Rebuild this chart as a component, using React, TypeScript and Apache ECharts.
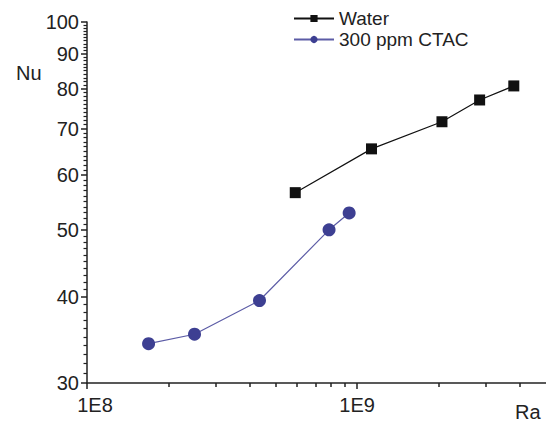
import React, { useEffect, useRef } from "react";
import * as echarts from "echarts";

const waterRa = [5.9e8, 1.13e9, 2.06e9, 2.84e9, 3.8e9];
const waterNu = [56.6, 65.5, 71.7, 77.1, 80.8];
const ctacRa = [1.69e8, 2.5e8, 4.35e8, 7.87e8, 9.34e8];
const ctacNu = [34.2, 35.3, 39.5, 50.0, 52.9];

const yMajor = [30, 40, 50, 60, 70, 80, 90, 100];
const yMinor: number[] = [];
for (let v = 31; v < 100; v++) if (v % 10 !== 0) yMinor.push(v);
const xMajor = [1e8, 1e9];
const xMinor = [2e8, 3e8, 4e8, 5e8, 6e8, 7e8, 8e8, 9e8, 2e9, 3e9, 4e9];
const xLabels = ["1E8", "1E9"];

const FONT = "'Liberation Sans', Arial, sans-serif";
const TXT = "#222";
const FS = 20;

export default function App() {
  const ref = useRef<HTMLDivElement>(null);
  useEffect(() => {
    if (!ref.current) return;
    const chart = echarts.init(ref.current, null, { renderer: "svg" });
    const axisLine = { show: true, onZero: false, lineStyle: { color: "#222", width: 1.5 } };
    chart.setOption({
      animation: false,
      backgroundColor: "#fff",
      grid: { left: 87, right: 0, top: 22, bottom: 44, containLabel: false },
      legend: {
        orient: "vertical",
        left: 288,
        top: 4,
        itemWidth: 40,
        itemHeight: 9,
        itemGap: 2,
        textStyle: { fontSize: 19, fontFamily: FONT, color: TXT },
        data: ["Water", "300 ppm CTAC"],
      },
      xAxis: [
        {
          type: "log",
          logBase: 10,
          min: 1e8,
          max: 5e9,
          position: "bottom",
          axisLine,
          splitLine: { show: false },
          axisTick: { show: true, inside: false, customValues: xMajor, length: 6, lineStyle: { color: "#222", width: 1.5 } },
          axisLabel: {
            show: true,
            inside: false,
            customValues: xMajor,
            margin: 12,
            fontSize: FS,
            fontFamily: FONT,
            color: TXT,
            formatter: (v: number) => {
              const i = Math.round(Math.log10(v)) - 8;
              return i === 0 ? "{s|" + xLabels[0] + "}" : xLabels[i];
            },
            rich: { s: { padding: [0, 0, 0, 16], fontSize: FS, fontFamily: FONT, color: TXT } },
          },
        },
        {
          type: "log",
          logBase: 10,
          min: 1e8,
          max: 5e9,
          position: "bottom",
          axisLine: { show: false, onZero: false },
          splitLine: { show: false },
          axisTick: { show: true, inside: false, customValues: xMinor, length: 4, lineStyle: { color: "#222", width: 1.5 } },
          axisLabel: { show: false },
        },
      ],
      yAxis: [
        {
          type: "log",
          logBase: 10,
          min: 30,
          max: 100,
          position: "left",
          axisLine,
          splitLine: { show: false },
          axisTick: { show: true, inside: false, customValues: yMajor, length: 6, lineStyle: { color: "#222", width: 1.5 } },
          axisLabel: {
            show: true,
            inside: false,
            customValues: yMajor,
            margin: 8,
            fontSize: FS,
            fontFamily: FONT,
            color: TXT,
            formatter: (v: number) => String(Math.round(v)),
          },
        },
        {
          type: "log",
          logBase: 10,
          min: 30,
          max: 100,
          position: "left",
          axisLine: { show: false, onZero: false },
          splitLine: { show: false },
          axisTick: { show: true, inside: false, customValues: yMinor, length: 3.5, lineStyle: { color: "#222", width: 1.2 } },
          axisLabel: { show: false },
        },
      ],
      graphic: [
        { type: "text", left: 16, top: 63, style: { text: "Nu", fontSize: FS, fontFamily: FONT, fill: TXT } },
        { type: "text", left: 515, top: 402, style: { text: "Ra", fontSize: FS, fontFamily: FONT, fill: TXT } },
      ],
      series: [
        {
          name: "Water",
          type: "line",
          xAxisIndex: 0,
          yAxisIndex: 0,
          data: waterRa.map((x, i) => [x, waterNu[i]]),
          symbol: "rect",
          symbolSize: 11,
          itemStyle: { color: "#111" },
          lineStyle: { color: "#111", width: 1.2 },
        },
        {
          name: "300 ppm CTAC",
          type: "line",
          xAxisIndex: 0,
          yAxisIndex: 0,
          data: ctacRa.map((x, i) => [x, ctacNu[i]]),
          symbol: "circle",
          symbolSize: 13,
          itemStyle: { color: "#3d3f92" },
          lineStyle: { color: "#5c5ca6", width: 1.2 },
        },
      ],
    });
    return () => chart.dispose();
  }, []);
  return (
    <div
      ref={ref}
      style={{ position: "fixed", left: 0, top: 0, width: 546, height: 427, background: "#fff" }}
    />
  );
}
